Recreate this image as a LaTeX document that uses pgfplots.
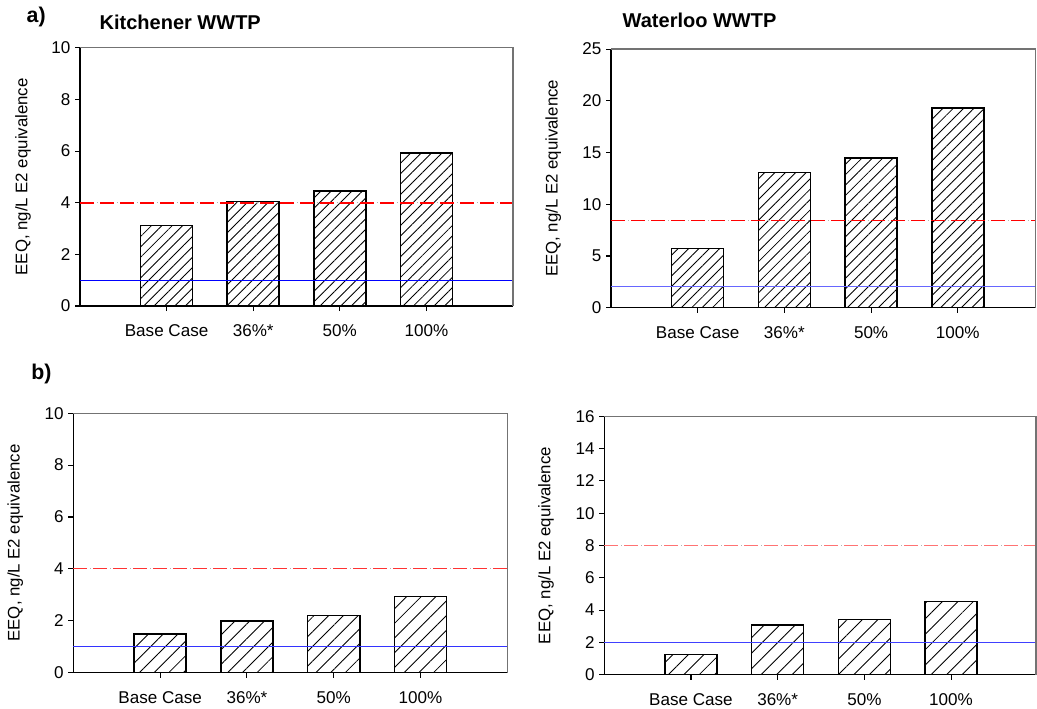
\documentclass[border=0pt]{standalone}
\usepackage{pgfplots}
\pgfplotsset{compat=1.18}
\usepackage{fontspec}
\setmainfont{Liberation Sans}
\usetikzlibrary{patterns.meta}

\definecolor{salmon}{RGB}{255,115,115}
\definecolor{lightred}{RGB}{255,50,50}

\pgfplotsset{
  eeq/.style={
    scale only axis,
    anchor=south west,
    axis x line*=bottom,
    axis y line*=left,
    axis line style={black, line width=1pt},
    xmin=0,
    xtick={1,2,3,4},
    xticklabels={Base Case, 36\%*, 50\%, 100\%},
    ymin=0,
    tick align=outside,
    major tick length=3.75pt,
    tick style={black, line width=0.8pt},
    tick label style={font=\fontsize{12.8}{14}\selectfont},
    /pgf/number format/assume math mode=true,
    xticklabel style={text height=9pt, text depth=2.5pt, yshift=-6.5pt},
    ylabel={EEQ, ng/L E2 equivalence},
    label style={font=\fontsize{12.6}{14}\selectfont},
    clip=false,
  },
  hatched/.style={
    ybar, bar width=0.6, draw=black, line width=1.1pt, fill=white,
    postaction={pattern={Lines[angle=45,distance=#1,line width=0.65pt]}},
  },
  hatched/.default=5.5pt,
  limitline/.style={sharp plot, no markers, line width=1pt, dash pattern=on 10.5pt off 4.5pt},
  limitdot/.style={sharp plot, no markers, line width=0.8pt, black!30, dash pattern=on 0.7pt off 14.3pt, dash phase=2.4pt},
  baseline/.style={sharp plot, no markers, line width=0.75pt},
}
\newcommand{\grayframe}{\draw[black!55, line width=1pt] (rel axis cs:0,1) -- (rel axis cs:1,1) -- (rel axis cs:1,0);}

\begin{document}
\begin{tikzpicture}
\useasboundingbox (0,0) rectangle (777.75pt,-531.75pt);

% panel labels and plant names
\node[anchor=west, font=\fontsize{16}{18}\selectfont\bfseries] at (16.5pt,-12.75pt) {a)};
\node[anchor=west, font=\fontsize{16}{18}\selectfont\bfseries] at (20pt,-280.5pt) {b)};
\node[anchor=west, font=\fontsize{15}{17}\selectfont\bfseries] at (71.25pt,-16.5pt) {Kitchener WWTP};
\node[anchor=west, font=\fontsize{15}{17}\selectfont\bfseries] at (463.5pt,-15pt) {Waterloo WWTP};

% a) Kitchener
\begin{axis}[eeq, at={(60pt,-229.5pt)}, width=324.75pt, height=193.7pt,
  xmax=5, ymax=10, ytick={0,2,...,10},
  ylabel style={at={(axis description cs:-0.1316,0.5)}, anchor=center}]
  \addplot[hatched] coordinates {(1,3.11) (2,4.04) (3,4.45) (4,5.93)};
  \addplot[limitline, red] coordinates {(0,3.99) (5,3.99)};
  \addplot[limitdot] coordinates {(0,3.99) (5,3.99)};
  \addplot[baseline, blue] coordinates {(0,1) (5,1)};
  \grayframe
\end{axis}

% a) Waterloo
\begin{axis}[eeq, at={(458.25pt,-230.8pt)}, width=318.6pt, height=194pt,
  xmax=4.9, ymax=25, ytick={0,5,...,25},
  ylabel style={at={(axis description cs:-0.136,0.5)}, anchor=center}]
  \addplot[hatched] coordinates {(1,5.74) (2,13.08) (3,14.46) (4,19.3)};
  \addplot[limitline, red] coordinates {(0,8.45) (4.9,8.45)};
  \addplot[limitdot] coordinates {(0,8.45) (4.9,8.45)};
  \addplot[baseline, blue!60] coordinates {(0,2.05) (4.9,2.05)};
  \grayframe
\end{axis}

% b) Kitchener
\begin{axis}[eeq, at={(55pt,-504.5pt)}, width=325.5pt, height=194.6pt,
  xmax=5, ymax=10, ytick={0,2,...,10},
  ylabel style={at={(axis description cs:-0.134,0.5)}, anchor=center}]
  \addplot[hatched=7.8pt] coordinates {(1,1.49) (2,1.99) (3,2.2) (4,2.93)};
  \addplot[limitline, lightred] coordinates {(0,4.01) (5,4.01)};
  \addplot[limitdot] coordinates {(0,4.01) (5,4.01)};
  \addplot[baseline, blue!80] coordinates {(0,0.99) (5,0.99)};
  \grayframe
\end{axis}

% b) Waterloo
\begin{axis}[eeq, at={(453.2pt,-506pt)}, width=323.8pt, height=193.8pt,
  xmax=4.98, ymax=16, ytick={0,2,...,16},
  ylabel style={at={(axis description cs:-0.135,0.5)}, anchor=center}]
  \addplot[hatched=8.2pt] coordinates {(1,1.24) (2,3.08) (3,3.41) (4,4.54)};
  \addplot[limitline, salmon, line width=1.2pt] coordinates {(0,7.99) (4.98,7.99)};
  \addplot[limitdot] coordinates {(0,7.99) (4.98,7.99)};
  \addplot[baseline, blue!75] coordinates {(0,1.98) (4.98,1.98)};
  \grayframe
\end{axis}
\end{tikzpicture}
\end{document}
